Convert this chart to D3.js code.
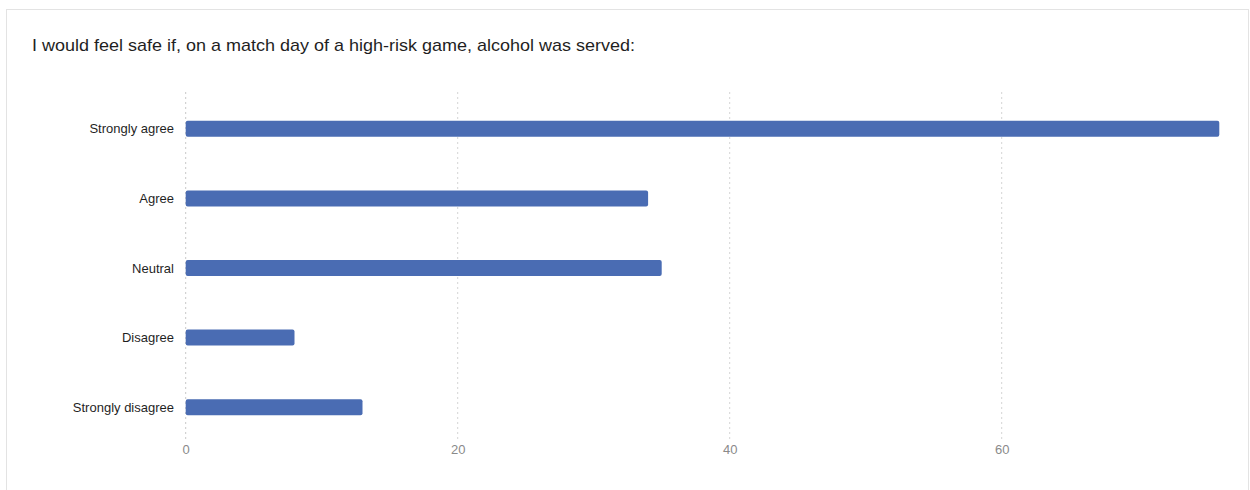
<!DOCTYPE html>
<html>
<head>
<meta charset="utf-8">
<script src="https://cdn.jsdelivr.net/npm/d3@7"></script>
<style>
  html, body { margin: 0; padding: 0; background: #fff; }
  svg { display: block; }
</style>
</head>
<body>
<svg id="chart" width="1250" height="490"></svg>
<script>
// Survey responses
const categories = ["Strongly agree", "Agree", "Neutral", "Disagree", "Strongly disagree"];
const counts = [76, 34, 35, 8, 13];
const tickValues = [0, 20, 40, 60];
const titleText = "I would feel safe if, on a match day of a high-risk game, alcohol was served:";

const svg = d3.select("#chart");
const W = 1250, H = 490;
const font = "Liberation Sans, Arial, sans-serif";

// Card outline
svg.append("rect")
  .attr("x", 6.5).attr("y", 9.5)
  .attr("width", W - 8).attr("height", H)
  .attr("fill", "#fff")
  .attr("stroke", "#e3e3e3")
  .attr("stroke-width", 1);

svg.append("text")
  .attr("x", 32).attr("y", 51)
  .attr("font-family", font)
  .attr("font-size", 17)
  .attr("textLength", 603)
  .attr("lengthAdjust", "spacingAndGlyphs")
  .attr("fill", "#1f1f1f")
  .text(titleText);

const x = d3.scaleLinear().domain([0, 60]).range([185.7, 1001.7]);
const y = d3.scaleBand().domain(categories).range([94, 442]).paddingInner(0).paddingOuter(0);

// Dotted vertical grid lines
svg.append("g")
  .selectAll("line")
  .data(tickValues)
  .join("line")
  .attr("x1", d => x(d)).attr("x2", d => x(d))
  .attr("y1", 92).attr("y2", 441)
  .attr("stroke", d => d === 0 ? "#c8c8c8" : "#d4d4d4")
  .attr("stroke-width", 1)
  .attr("stroke-dasharray", "2,3");

// Tick labels via axis generator
const axis = d3.axisBottom(x).tickValues(tickValues).tickSize(0).tickPadding(0);
const gAxis = svg.append("g").attr("transform", "translate(0,445)").call(axis);
gAxis.select(".domain").remove();
gAxis.selectAll("text")
  .attr("dy", "0.71em")
  .attr("font-family", font)
  .attr("font-size", 13)
  .attr("fill", "#8a8a8a");

// Bars
const barH = 16;
svg.append("g")
  .selectAll("rect")
  .data(categories)
  .join("rect")
  .attr("x", x(0))
  .attr("y", d => y(d) + y.bandwidth() / 2 - barH / 2)
  .attr("width", (d, i) => x(counts[i]) - x(0))
  .attr("height", barH)
  .attr("rx", 2).attr("ry", 2)
  .attr("fill", "#4a6cb3");

// Category labels
svg.append("g")
  .selectAll("text")
  .data(categories)
  .join("text")
  .attr("x", 174)
  .attr("y", d => y(d) + y.bandwidth() / 2)
  .attr("dy", "0.35em")
  .attr("text-anchor", "end")
  .attr("font-family", font)
  .attr("font-size", 13)
  .attr("fill", "#1f1f1f")
  .text(d => d);
</script>
</body>
</html>
